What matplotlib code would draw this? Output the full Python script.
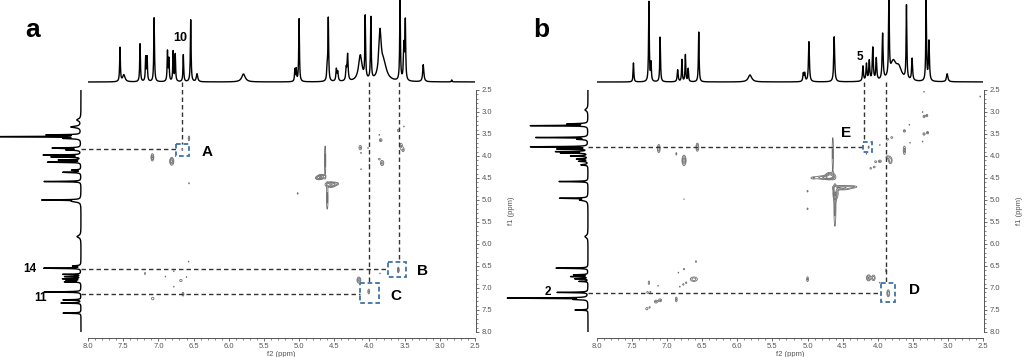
import numpy as np
import matplotlib
matplotlib.use('Agg')
import matplotlib.pyplot as plt
from matplotlib.patches import Rectangle
from matplotlib.ticker import MultipleLocator

plt.rcParams['font.family'] = ['Liberation Sans', 'DejaVu Sans']

# ---------------- 1D spectra (ppm, intensity, linewidth) ----------------
a_top_ppm = [7.545, 7.49, 7.26, 7.18, 7.16, 7.06, 6.87, 6.85, 6.79, 6.76, 6.645, 6.54, 6.45,
             5.79, 5.06, 5.04, 5.00, 4.60, 4.585, 4.47, 4.45, 4.33, 4.31, 4.13, 4.06, 3.98,
             3.85, 3.80, 3.565, 3.51, 3.49, 3.235, 2.83]
a_top_int = [34, 7, 38, 24, 24, 64, 30, 22, 30, 27, 27, 62, 8,
             8, 12, 12, 63, 13, 62, 12, 9, 12, 26, 26, 62, 62,
             44, 18, 80, 35, 58, 17, 2]
a_top_w = [0.006, 0.02, 0.006, 0.006, 0.006, 0.006, 0.006, 0.006, 0.006, 0.006, 0.006, 0.006, 0.012,
           0.03, 0.006, 0.006, 0.006, 0.008, 0.006, 0.008, 0.008, 0.008, 0.008, 0.03, 0.006, 0.006,
           0.02, 0.05, 0.006, 0.008, 0.006, 0.01, 0.006]

b_top_ppm = [7.48, 7.26, 7.23, 7.10, 6.85, 6.79, 6.74, 6.70, 6.55, 5.82, 5.06, 5.04, 4.98,
             4.62, 4.21, 4.16, 4.12, 4.07, 4.02, 3.93, 3.84, 3.78, 3.70, 3.59, 3.51, 3.31,
             3.27, 3.01]
b_top_int = [19, 80, 18, 45, 12, 22, 27, 13, 50, 7, 8, 8, 40,
             45, 15, 17, 20, 33, 22, 46, 80, 18, 12, 74, 22, 80,
             40, 8]
b_top_w = [0.006, 0.006, 0.006, 0.006, 0.008, 0.006, 0.006, 0.006, 0.006, 0.03, 0.008, 0.008, 0.008,
           0.008, 0.008, 0.008, 0.008, 0.008, 0.008, 0.008, 0.006, 0.05, 0.05, 0.006, 0.008, 0.006,
           0.008, 0.012]

a_left_ppm = [3.18, 3.34, 3.52, 3.56, 3.60, 3.82, 3.86, 3.98, 4.02, 4.09, 4.14, 4.32, 4.37,
              4.58, 5.00, 5.03, 5.83, 6.50, 6.55, 6.69, 6.74, 6.79, 6.83, 6.86, 7.09, 7.27,
              7.34, 7.57]
a_left_int = [4, 10, 33, 86, 16, 28, 14, 37, 29, 22, 33, 9, 18,
              37, 37, 8, 4, 8, 37, 18, 16, 18, 14, 16, 37, 18,
              20, 18]
a_left_w = [0.03, 0.02, 0.006, 0.006, 0.01, 0.008, 0.01, 0.006, 0.006, 0.006, 0.006, 0.008, 0.008,
            0.006, 0.006, 0.02, 0.03, 0.01, 0.006, 0.006, 0.006, 0.006, 0.006, 0.006, 0.006, 0.006,
            0.006, 0.006]

b_left_ppm = [2.95, 3.27, 3.31, 3.58, 3.62, 3.79, 3.84, 3.90, 3.93, 4.00, 4.07, 4.12, 4.20,
              4.58, 4.96, 5.00, 5.83, 6.55, 6.70, 6.74, 6.79, 6.85, 7.10, 7.23, 7.26, 7.50]
b_left_int = [3, 20, 57, 52, 10, 57, 30, 31, 26, 17, 11, 9, 7,
              29, 27, 8, 3, 32, 14, 17, 13, 9, 31, 80, 12, 13]
b_left_w = [0.03, 0.008, 0.006, 0.006, 0.01, 0.006, 0.006, 0.006, 0.006, 0.008, 0.008, 0.008, 0.01,
            0.006, 0.006, 0.02, 0.03, 0.006, 0.006, 0.006, 0.006, 0.006, 0.006, 0.006, 0.008, 0.006]

# ---------------- 2D cross peaks (f2, f1, sigma f2, sigma f1, amplitude) ----------------
a_cx = [6.565, 6.66, 7.085, 6.81, 6.565, 5.02,
        4.63, 4.68, 4.73, 4.55, 4.60, 4.47,
        4.13, 4.12, 4.02, 3.84, 3.86, 3.86, 3.82, 4.00, 4.12, 3.59, 3.51, 3.55, 3.52,
        3.59, 3.85, 4.15, 4.01, 7.19, 6.90, 6.78, 6.57, 6.60, 6.68, 6.78, 6.65, 7.08]
a_cy = [3.60, 3.85, 4.03, 4.12, 4.62, 4.85,
        4.10, 4.47, 4.50, 4.65, 4.95, 4.63,
        3.81, 3.93, 3.82, 3.64, 3.52, 4.07, 4.16, 4.20, 4.30, 3.42, 3.33, 3.78, 3.86,
        6.59, 6.67, 6.82, 7.08, 6.67, 6.74, 6.62, 6.40, 6.75, 6.83, 6.97, 7.14, 7.24]
a_sx = [0.010, 0.008, 0.015, 0.020, 0.006, 0.008,
        0.008, 0.035, 0.030, 0.045, 0.010, 0.030,
        0.018, 0.008, 0.006, 0.018, 0.006, 0.012, 0.020, 0.008, 0.006, 0.012, 0.006, 0.018, 0.014,
        0.010, 0.005, 0.020, 0.012, 0.006, 0.006, 0.006, 0.006, 0.006, 0.018, 0.006, 0.012, 0.018]
a_sy = [0.05, 0.03, 0.06, 0.06, 0.02, 0.02,
        0.28, 0.035, 0.03, 0.04, 0.22, 0.025,
        0.045, 0.015, 0.015, 0.03, 0.015, 0.02, 0.05, 0.02, 0.015, 0.03, 0.015, 0.06, 0.04,
        0.05, 0.015, 0.05, 0.05, 0.03, 0.015, 0.015, 0.015, 0.015, 0.025, 0.015, 0.04, 0.03]
a_amp = [1.8, 1.5, 2.6, 3.0, 1.3, 1.4,
         2.0, 3.2, 2.0, 3.6, 2.0, 1.5,
         1.8, 1.3, 1.3, 1.8, 1.3, 1.5, 2.0, 1.3, 1.3, 1.6, 1.3, 1.8, 1.6,
         2.2, 1.3, 2.6, 1.8, 1.4, 1.3, 1.3, 1.3, 1.3, 1.6, 1.3, 1.8, 1.6]

b_cx = [3.34, 2.54, 3.36, 3.34, 3.30, 3.55, 3.62, 3.34, 3.29, 3.36, 3.54, 3.62, 3.86, 3.80,
        3.97, 4.13, 4.16, 3.86, 3.97, 4.03, 3.82, 4.05, 4.10,
        4.64, 4.76, 4.68, 4.92, 4.50, 4.35, 4.61, 4.60,
        5.00, 5.00, 6.76, 7.12, 6.57, 6.87, 6.76,
        6.59, 6.76, 6.84, 6.62, 6.73, 6.77, 6.82, 7.26, 7.13, 7.28, 7.24, 7.10, 7.16, 7.29, 7.25,
        6.87, 5.00, 4.13, 4.06, 3.88, 3.97, 3.85]
b_cy = [2.54, 2.65, 3.00, 3.10, 3.08, 3.29, 3.43, 3.50, 3.47, 3.67, 3.70, 3.87, 3.62, 3.58,
        3.75, 3.80, 3.95, 4.03, 4.12, 4.13, 4.10, 4.25, 4.28,
        3.95, 4.49, 4.45, 4.50, 4.72, 4.70, 5.15, 4.85,
        4.80, 5.20, 4.98, 3.83, 3.80, 3.95, 4.10,
        6.40, 6.57, 6.65, 6.80, 6.88, 6.92, 6.97, 6.88, 6.95, 7.10, 7.09, 7.28, 7.31, 7.47, 7.44,
        7.26, 6.80, 6.77, 6.77, 6.60, 6.88, 7.12]
b_sx = [0.006, 0.004, 0.006, 0.012, 0.012, 0.006, 0.014, 0.014, 0.014, 0.006, 0.006, 0.014, 0.014, 0.014,
        0.006, 0.008, 0.006, 0.020, 0.020, 0.014, 0.020, 0.014, 0.012,
        0.009, 0.090, 0.040, 0.030, 0.085, 0.050, 0.012, 0.028,
        0.008, 0.008, 0.004, 0.015, 0.015, 0.008, 0.020,
        0.008, 0.008, 0.006, 0.040, 0.010, 0.010, 0.008, 0.010, 0.006, 0.012, 0.008, 0.020, 0.020, 0.015, 0.010,
        0.012, 0.012, 0.022, 0.018, 0.008, 0.006, 0.015]
b_sy = [0.015, 0.020, 0.015, 0.025, 0.025, 0.015, 0.025, 0.025, 0.025, 0.015, 0.015, 0.080, 0.020, 0.020,
        0.015, 0.030, 0.015, 0.030, 0.025, 0.020, 0.060, 0.020, 0.020,
        0.34, 0.030, 0.050, 0.020, 0.035, 0.020, 0.38, 0.10,
        0.020, 0.020, 0.012, 0.070, 0.070, 0.030, 0.080,
        0.020, 0.020, 0.015, 0.040, 0.020, 0.020, 0.015, 0.040, 0.015, 0.020, 0.015, 0.030, 0.030, 0.025, 0.020,
        0.050, 0.050, 0.050, 0.050, 0.040, 0.015, 0.060]
b_amp = [1.3, 1.3, 1.3, 1.8, 1.8, 1.3, 1.8, 1.8, 1.8, 1.3, 1.3, 2.0, 1.6, 1.6,
         1.3, 1.5, 1.3, 1.8, 1.8, 1.6, 2.2, 1.6, 1.5,
         1.8, 2.5, 3.5, 1.3, 2.8, 1.5, 2.0, 2.3,
         1.5, 1.5, 1.3, 2.4, 2.4, 1.5, 3.0,
         1.5, 1.5, 1.3, 2.2, 1.5, 1.5, 1.3, 1.6, 1.3, 1.6, 1.4, 1.8, 1.8, 1.7, 1.4,
         1.8, 1.8, 2.6, 2.2, 1.5, 1.3, 2.4]

# ---------------- annotations (ppm) ----------------
a_boxes = {'A': (6.75, 3.73, 6.56, 3.99), 'B': (3.73, 6.42, 3.48, 6.76), 'C': (4.13, 6.89, 3.86, 7.33)}
b_boxes = {'E': (4.215, 3.69, 4.08, 3.92), 'D': (3.95, 6.89, 3.76, 7.31)}
a_vlines = [(6.665, 3.73), (4.00, 6.89), (3.585, 6.42)]   # (f2, end f1)
a_hlines = [(3.85, 6.75), (6.575, 3.73), (7.14, 4.13)]    # (f1, end f2)
b_vlines = [(4.19, 3.69), (3.88, 6.89)]
b_hlines = [(3.80, 4.215), (7.12, 3.95)]

W, H = 1024, 357
fig = plt.figure(figsize=(W / 100, H / 100), dpi=100)


def rect(x0, y0, x1, y1):
    return [x0 / W, 1 - y1 / H, (x1 - x0) / W, (y1 - y0) / H]


ppm = np.linspace(2.3, 8.2, 6000)


def spectrum(pos, inten, wid):
    s = np.zeros_like(ppm)
    for p, i, w in zip(pos, inten, wid):
        s += i * w ** 2 / ((ppm - p) ** 2 + w ** 2)
    return s


gx = np.linspace(2.4, 8.1, 2280)
gy = np.linspace(2.4, 8.1, 1140)


def surface(cx, cy, sx, sy, amp):
    cx, cy, sx, sy, amp = map(np.asarray, (cx, cy, sx, sy, amp))
    GX = np.exp(-0.5 * ((gx[None, :] - cx[:, None]) / sx[:, None]) ** 2)
    GY = np.exp(-0.5 * ((gy[None, :] - cy[:, None]) / sy[:, None]) ** 2)
    return (GY * amp[:, None]).T @ GX


def make_panel(x2d0, x2d1, leftx0, leftbase, top, left, peaks, boxes, vlines, hlines):
    ax = fig.add_axes(rect(x2d0, 90, x2d1, 332))
    axt = fig.add_axes(rect(x2d0, 0, x2d1, 84))
    axl = fig.add_axes(rect(leftx0, 90, leftbase + 2, 332))

    # top 1D
    axt.plot(ppm, spectrum(*top), color='black', lw=1.0)
    axt.set_xlim(8.0, 2.5)
    axt.set_ylim(-2, 82)
    axt.axis('off')

    # left 1D
    axl.plot(spectrum(*left), ppm, color='black', lw=1.0)
    span = leftbase + 2 - leftx0
    axl.set_xlim(span - 2, -2)
    axl.set_ylim(8.0, 2.5)
    axl.axis('off')

    # 2D contours
    Z = surface(*peaks)
    ax.contour(gx, gy, Z, levels=[1.0, 1.7, 2.5, 3.4], colors='#6e6e6e', linewidths=0.6)
    ax.set_xlim(8.0, 2.5)
    ax.set_ylim(8.0, 2.5)
    for s in ('left', 'top'):
        ax.spines[s].set_visible(False)
    ax.spines['bottom'].set_position(('outward', 4))
    ax.spines['right'].set_position(('outward', 1))
    for s in ('bottom', 'right'):
        ax.spines[s].set_color('#555555')
        ax.spines[s].set_linewidth(0.7)
    ax.yaxis.tick_right()
    ax.yaxis.set_label_position('right')
    ax.xaxis.set_major_locator(MultipleLocator(0.5))
    ax.xaxis.set_minor_locator(MultipleLocator(0.1))
    ax.yaxis.set_major_locator(MultipleLocator(0.5))
    ax.yaxis.set_minor_locator(MultipleLocator(0.1))
    ax.xaxis.set_major_formatter(lambda v, p: f'{v:.1f}')
    ax.yaxis.set_major_formatter(lambda v, p: f'{v:.1f}')
    ax.tick_params(which='major', length=2.5, width=0.6, pad=1.5, labelsize=5.5,
                   colors='#555555', labelcolor='#555555')
    ax.tick_params(which='minor', length=1.3, width=0.5, colors='#555555')
    ax.set_xlabel('f2 (ppm)', fontsize=5.5, color='#555555', labelpad=0.5)
    ax.set_ylabel('f1 (ppm)', fontsize=5.5, color='#555555', rotation=90)
    ax.yaxis.set_label_coords(1.085, 0.5)
    ax.patch.set_alpha(0)

    top_base = 2.5 - 8 / 44.0
    left_base = 8.0 + (x2d0 - leftbase) / 70.3
    ls = (0, (3.2, 2.2))
    for xv, yend in vlines:
        ax.plot([xv, xv], [top_base, yend], color='#333333', lw=1.0, ls=ls, clip_on=False)
    for yv, xend in hlines:
        ax.plot([left_base, xend], [yv, yv], color='#333333', lw=1.0, ls=ls, clip_on=False)
    for name, (x0, y0, x1, y1) in boxes.items():
        ax.add_patch(Rectangle((x0, y0), x1 - x0, y1 - y0, fill=False, ec='#3f72a8',
                               lw=1.3, ls=(0, (2.6, 1.6)), clip_on=False, zorder=5))
    return ax


make_panel(88, 475, 0, 81,
           (a_top_ppm, a_top_int, a_top_w), (a_left_ppm, a_left_int, a_left_w),
           (a_cx, a_cy, a_sx, a_sy, a_amp), a_boxes, a_vlines, a_hlines)
make_panel(597, 983, 500, 588,
           (b_top_ppm, b_top_int, b_top_w), (b_left_ppm, b_left_int, b_left_w),
           (b_cx, b_cy, b_sx, b_sy, b_amp), b_boxes, b_vlines, b_hlines)


def label(px, py, s, size, **kw):
    fig.text(px / W, 1 - py / H, s, fontsize=size, fontweight='bold', ha='center', va='center', **kw)


label(33, 30, 'a', 19)
label(541, 30, 'b', 19)
label(180, 38, '10', 9)
label(30, 269, '14', 8.5)
label(41, 298, '11', 8.5)
label(207, 152, 'A', 11)
label(422, 271, 'B', 11)
label(396, 296, 'C', 11)
label(860, 57, '5', 8.5)
label(548, 292, '2', 8.5)
label(846, 133, 'E', 11)
label(915, 290, 'D', 11)

fig.savefig('out.png', dpi=100)
